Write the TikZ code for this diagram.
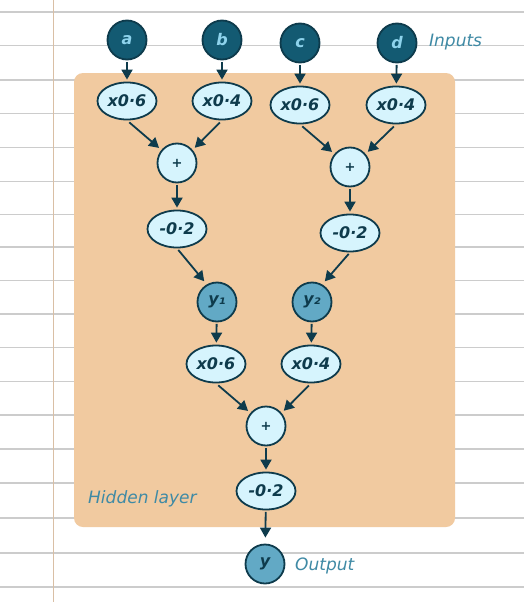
\documentclass[tikz,border=0pt]{standalone}
\usepackage{fontspec}
\setmainfont{DejaVu Sans}
\usetikzlibrary{shapes.geometric,arrows.meta}
\definecolor{navy}{HTML}{135A72}
\definecolor{edgec}{HTML}{0E3B4C}
\definecolor{lightletter}{HTML}{8ED3EC}
\definecolor{midblue}{HTML}{62A9C5}
\definecolor{pale}{HTML}{D6F4FD}
\definecolor{boxorange}{HTML}{F1CAA0}
\definecolor{labelc}{HTML}{3F8AA5}
\definecolor{ruled}{HTML}{CCCCCC}
\definecolor{marginc}{HTML}{D9BFA5}
\begin{document}
\begin{tikzpicture}[x=1pt,y=-1pt,
  font=\fontsize{16}{18}\selectfont\bfseries\itshape,
  inp/.style={circle,draw=edgec,line width=1.8pt,fill=navy,text=lightletter,minimum size=39pt,inner sep=0pt},
  hid/.style={inp,fill=midblue,text=edgec},
  op/.style={ellipse,draw=edgec,line width=1.8pt,fill=pale,text=edgec,minimum width=59pt,minimum height=37pt,inner sep=0pt},
  sumnode/.style={circle,draw=edgec,line width=1.8pt,fill=pale,text=edgec,minimum size=39pt,inner sep=0pt,font=\fontsize{13}{14}\selectfont\bfseries},
  arr/.style={draw=edgec,line width=1.8pt,-{Triangle[length=10pt,width=11pt]},shorten <=1.5pt,shorten >=2pt},
  lbl/.style={text=labelc,anchor=west,inner sep=0pt,font=\fontsize{17}{19}\selectfont\itshape}]
\fill[white] (0,0) rectangle (524,602);
\useasboundingbox (0,0) rectangle (524,602);
\foreach \yy in {12,45.7,80,113.7,147.3,181.3,214.7,247,280.5,314,347.7,381.7,415,449,483,518,553,587}
  \draw[ruled,line width=1.1pt] (0,\yy) -- (524,\yy);
\draw[marginc,line width=1pt] (53.5,0) -- (53.5,602);
\fill[boxorange,rounded corners=9pt] (74,73) rectangle (455,527);

% inputs
\node[inp] (a) at (127,40) {a};
\node[inp] (b) at (222,40) {b};
\node[inp] (c) at (300,43) {c};
\node[inp] (d) at (397,43) {d};
\node[lbl] (inputs) at (429,42) {Inputs};

% first layer
\node[op] (wa) at (127,101) {x0·6};
\node[op] (wb) at (222,101) {x0·4};
\node[op] (wc) at (300,105) {x0·6};
\node[op] (wd) at (396,105) {x0·4};
\node[sumnode] (s1) at (177,163) {+};
\node[sumnode] (s2) at (350,167) {+};
\node[op] (b1) at (177,229) {-0·2};
\node[op] (b2) at (350,233) {-0·2};
\node[hid] (y1) at (217,302) {y₁};
\node[hid] (y2) at (312,302) {y₂};

% second layer
\node[op] (w1) at (216,364) {x0·6};
\node[op] (w2) at (311,364) {x0·4};
\node[sumnode] (s3) at (266,426) {+};
\node[op] (b3) at (266,491) {-0·2};
\node[hid] (y) at (265,564) {y};
\node[lbl] (output) at (295,566) {Output};
\node[lbl] (hidden) at (88,499) {Hidden layer};

% arrows
\draw[arr] (a) -- (wa);
\draw[arr] (b) -- (wb);
\draw[arr] (c) -- (wc);
\draw[arr] (d) -- (wd);
\draw[arr,shorten <=3pt,shorten >=3pt] (wa.south) -- (s1.140);
\draw[arr,shorten <=3pt,shorten >=3pt] (wb.south) -- (s1.40);
\draw[arr,shorten <=3pt,shorten >=3pt] (wc.south) -- (s2.140);
\draw[arr,shorten <=3pt,shorten >=3pt] (wd.south) -- (s2.40);
\draw[arr] (s1) -- (b1);
\draw[arr] (s2) -- (b2);
\draw[arr,shorten <=2pt,shorten >=4pt] (b1.south) -- (y1.120);
\draw[arr,shorten <=2pt,shorten >=4pt] (b2.south) -- (y2.60);
\draw[arr] (y1) -- (w1);
\draw[arr] (y2) -- (w2);
\draw[arr,shorten <=3pt,shorten >=3pt] (w1.south) -- (s3.140);
\draw[arr,shorten <=3pt,shorten >=3pt] (w2.south) -- (s3.40);
\draw[arr] (s3) -- (b3);
\draw[arr,shorten >=6pt] (b3) -- (y);
\end{tikzpicture}
\end{document}
